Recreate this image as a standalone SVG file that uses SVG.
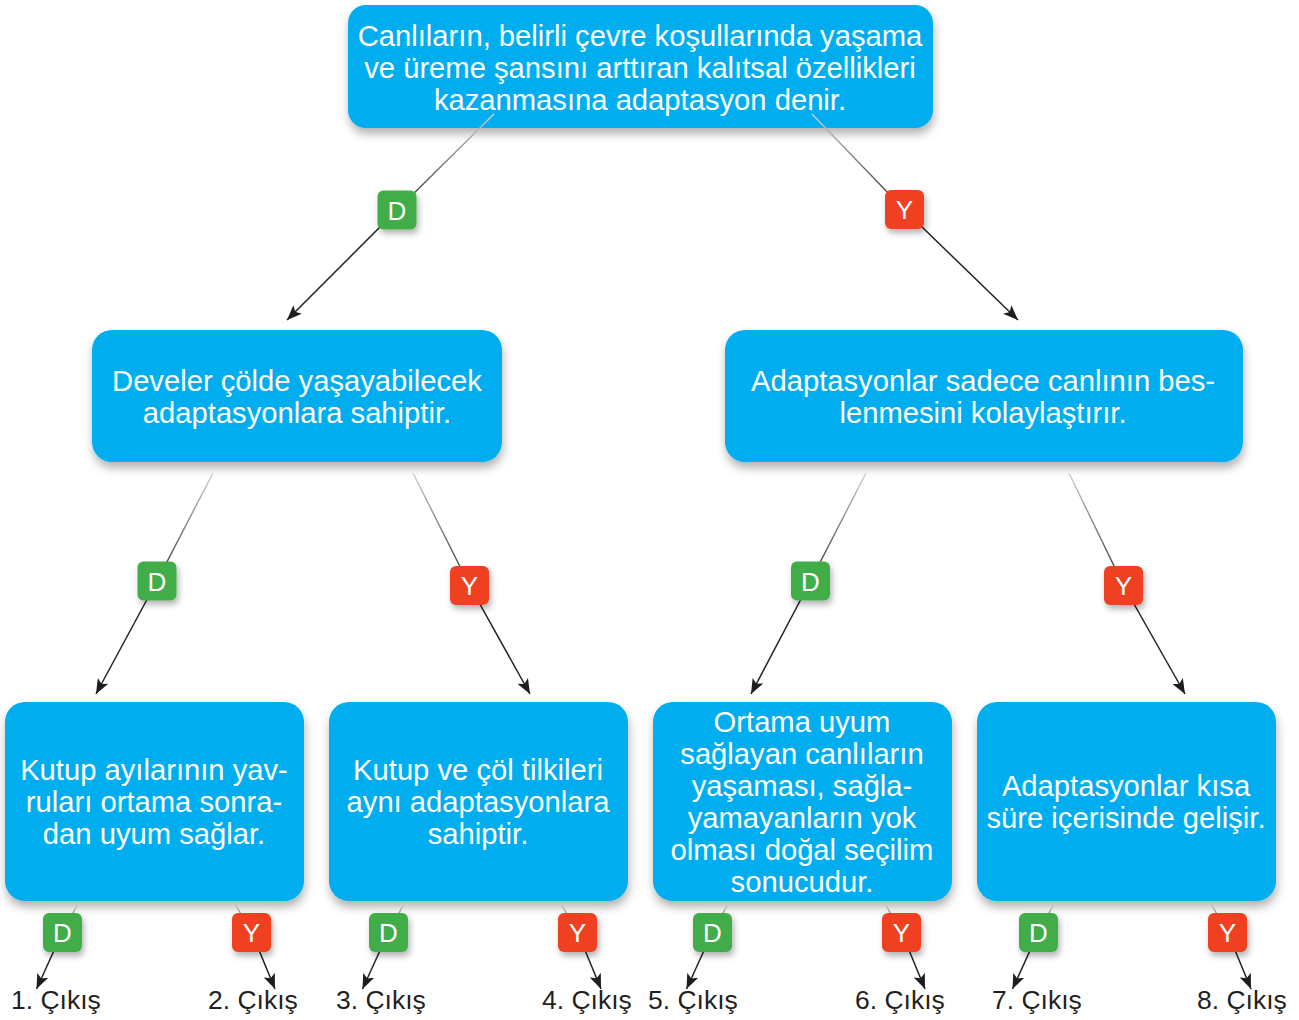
<svg xmlns="http://www.w3.org/2000/svg" width="1299" height="1020" viewBox="0 0 1299 1020">
<defs>
  <filter id="boxShadow" x="-10%" y="-10%" width="120%" height="130%">
    <feDropShadow dx="1" dy="6" stdDeviation="5" flood-color="#000" flood-opacity="0.3"/>
  </filter>
  <filter id="badgeShadow" x="-40%" y="-40%" width="190%" height="190%">
    <feDropShadow dx="2" dy="4" stdDeviation="3" flood-color="#000" flood-opacity="0.3"/>
  </filter>
  <linearGradient id="fade" x1="0" y1="0" x2="0" y2="1">
    <stop offset="0" stop-color="#d0d0d0"/>
    <stop offset="1" stop-color="#2a2a2a"/>
  </linearGradient>
  <marker id="arrow" markerUnits="userSpaceOnUse" markerWidth="16" markerHeight="12" refX="15" refY="6" orient="auto">
    <path d="M0,0 L15,6 L0,12 L3.5,6 z" fill="#1e1e1e"/>
  </marker>
</defs>
<style>
  .box { fill: #00AEEF; filter: url(#boxShadow); }
  .t { font-family: "Liberation Sans", Arial, sans-serif; font-size: 29.2px; fill: #ffffff; text-anchor: middle; }
  .bd { fill: #41AD49; filter: url(#badgeShadow); }
  .by { fill: #EF4123; filter: url(#badgeShadow); }
  .bt { font-family: "Liberation Sans", Arial, sans-serif; font-size: 26px; fill: #ffffff; text-anchor: middle; }
  .up { stroke: url(#fade); stroke-width: 1.4; fill: none; }
  .dn { stroke: #222; stroke-width: 1.5; fill: none; marker-end: url(#arrow); }
  .out { font-family: "Liberation Sans", Arial, sans-serif; font-size: 26.5px; fill: #231f20; }
</style>

<g id="node-root">
  <rect class="box" x="348" y="5" width="585" height="123" rx="18"/>
  <text class="t" x="640" y="46">Canlıların, belirli çevre koşullarında yaşama</text>
  <text class="t" x="640" y="78">ve üreme şansını arttıran kalıtsal özellikleri</text>
  <text class="t" x="640" y="110">kazanmasına adaptasyon denir.</text>
</g>
<g id="node-left">
  <rect class="box" x="92" y="330" width="410" height="132" rx="20"/>
  <text class="t" x="297" y="391">Develer çölde yaşayabilecek</text>
  <text class="t" x="297" y="423">adaptasyonlara sahiptir.</text>
</g>
<g id="node-right">
  <rect class="box" x="725" y="330" width="518" height="132" rx="20"/>
  <text class="t" x="983" y="391">Adaptasyonlar sadece canlının bes-</text>
  <text class="t" x="983" y="423">lenmesini kolaylaştırır.</text>
</g>
<g id="node-b1">
  <rect class="box" x="5" y="702" width="299" height="199" rx="20"/>
  <text class="t" x="154" y="780">Kutup ayılarının yav-</text>
  <text class="t" x="154" y="812">ruları ortama sonra-</text>
  <text class="t" x="154" y="844">dan uyum sağlar.</text>
</g>
<g id="node-b2">
  <rect class="box" x="329" y="702" width="299" height="199" rx="20"/>
  <text class="t" x="478" y="780">Kutup ve çöl tilkileri</text>
  <text class="t" x="478" y="812">aynı adaptasyonlara</text>
  <text class="t" x="478" y="844">sahiptir.</text>
</g>
<g id="node-b3">
  <rect class="box" x="653" y="702" width="299" height="199" rx="20"/>
  <text class="t" x="802" y="732">Ortama uyum</text>
  <text class="t" x="802" y="764">sağlayan canlıların</text>
  <text class="t" x="802" y="796">yaşaması, sağla-</text>
  <text class="t" x="802" y="828">yamayanların yok</text>
  <text class="t" x="802" y="860">olması doğal seçilim</text>
  <text class="t" x="802" y="892">sonucudur.</text>
</g>
<g id="node-b4">
  <rect class="box" x="977" y="702" width="299" height="199" rx="20"/>
  <text class="t" x="1126" y="796">Adaptasyonlar kısa</text>
  <text class="t" x="1126" y="828">süre içerisinde gelişir.</text>
</g>

<g id="connectors">
  <line class="up" x1="494" y1="114" x2="397" y2="210"/>
  <line class="dn" x1="397" y1="210" x2="287" y2="320"/>
  <line class="up" x1="812" y1="114" x2="904.5" y2="210"/>
  <line class="dn" x1="904.5" y1="210" x2="1018" y2="320"/>

  <line class="up" x1="213" y1="473" x2="157" y2="581"/>
  <line class="dn" x1="157" y1="581" x2="96" y2="694"/>
  <line class="up" x1="413" y1="473" x2="469.5" y2="585.5"/>
  <line class="dn" x1="469.5" y1="585.5" x2="530" y2="694"/>
  <line class="up" x1="866" y1="473" x2="810.5" y2="581"/>
  <line class="dn" x1="810.5" y1="581" x2="751" y2="694"/>
  <line class="up" x1="1069" y1="473" x2="1123.5" y2="585.5"/>
  <line class="dn" x1="1123.5" y1="585.5" x2="1185" y2="694"/>

  <line class="up" x1="78.5" y1="903" x2="62.5" y2="932"/>
  <line class="dn" x1="62.5" y1="932" x2="36.5" y2="989"/>
  <line class="up" x1="234.5" y1="903" x2="251.5" y2="932"/>
  <line class="dn" x1="251.5" y1="932" x2="275" y2="989"/>
  <line class="up" x1="404.5" y1="903" x2="388.5" y2="932"/>
  <line class="dn" x1="388.5" y1="932" x2="362.5" y2="989"/>
  <line class="up" x1="560.5" y1="903" x2="577.5" y2="932"/>
  <line class="dn" x1="577.5" y1="932" x2="601" y2="989"/>
  <line class="up" x1="728.5" y1="903" x2="712.5" y2="932"/>
  <line class="dn" x1="712.5" y1="932" x2="686.5" y2="989"/>
  <line class="up" x1="884.5" y1="903" x2="901.5" y2="932"/>
  <line class="dn" x1="901.5" y1="932" x2="925" y2="989"/>
  <line class="up" x1="1054.5" y1="903" x2="1038.5" y2="932"/>
  <line class="dn" x1="1038.5" y1="932" x2="1012.5" y2="989"/>
  <line class="up" x1="1210.5" y1="903" x2="1227.5" y2="932"/>
  <line class="dn" x1="1227.5" y1="932" x2="1251" y2="989"/>
</g>

<g id="badge-top-d"><rect class="bd" x="377.5" y="190.5" width="39" height="39" rx="6"/><text class="bt" x="397" y="219.5">D</text></g>
<g id="badge-top-y"><rect class="by" x="885" y="190" width="39" height="39" rx="6"/><text class="bt" x="904.5" y="219">Y</text></g>
<g id="badge-l-d"><rect class="bd" x="137.5" y="561.5" width="39" height="39" rx="6"/><text class="bt" x="157" y="590.5">D</text></g>
<g id="badge-l-y"><rect class="by" x="450" y="566" width="39" height="39" rx="6"/><text class="bt" x="469.5" y="595">Y</text></g>
<g id="badge-r-d"><rect class="bd" x="791" y="561.5" width="39" height="39" rx="6"/><text class="bt" x="810.5" y="590.5">D</text></g>
<g id="badge-r-y"><rect class="by" x="1104" y="566" width="39" height="39" rx="6"/><text class="bt" x="1123.5" y="595">Y</text></g>

<g id="badge-b1-d"><rect class="bd" x="43" y="913" width="39" height="39" rx="6"/><text class="bt" x="62.5" y="942">D</text></g>
<g id="badge-b1-y"><rect class="by" x="232" y="913" width="39" height="39" rx="6"/><text class="bt" x="251.5" y="942">Y</text></g>
<g id="badge-b2-d"><rect class="bd" x="369" y="913" width="39" height="39" rx="6"/><text class="bt" x="388.5" y="942">D</text></g>
<g id="badge-b2-y"><rect class="by" x="558" y="913" width="39" height="39" rx="6"/><text class="bt" x="577.5" y="942">Y</text></g>
<g id="badge-b3-d"><rect class="bd" x="693" y="913" width="39" height="39" rx="6"/><text class="bt" x="712.5" y="942">D</text></g>
<g id="badge-b3-y"><rect class="by" x="882" y="913" width="39" height="39" rx="6"/><text class="bt" x="901.5" y="942">Y</text></g>
<g id="badge-b4-d"><rect class="bd" x="1019" y="913" width="39" height="39" rx="6"/><text class="bt" x="1038.5" y="942">D</text></g>
<g id="badge-b4-y"><rect class="by" x="1208" y="913" width="39" height="39" rx="6"/><text class="bt" x="1227.5" y="942">Y</text></g>

<g id="outputs">
  <text class="out" x="11" y="1009">1. Çıkış</text>
  <text class="out" x="208" y="1009">2. Çıkış</text>
  <text class="out" x="336" y="1009">3. Çıkış</text>
  <text class="out" x="542" y="1009">4. Çıkış</text>
  <text class="out" x="648" y="1009">5. Çıkış</text>
  <text class="out" x="855" y="1009">6. Çıkış</text>
  <text class="out" x="992" y="1009">7. Çıkış</text>
  <text class="out" x="1197" y="1009">8. Çıkış</text>
</g>
</svg>
